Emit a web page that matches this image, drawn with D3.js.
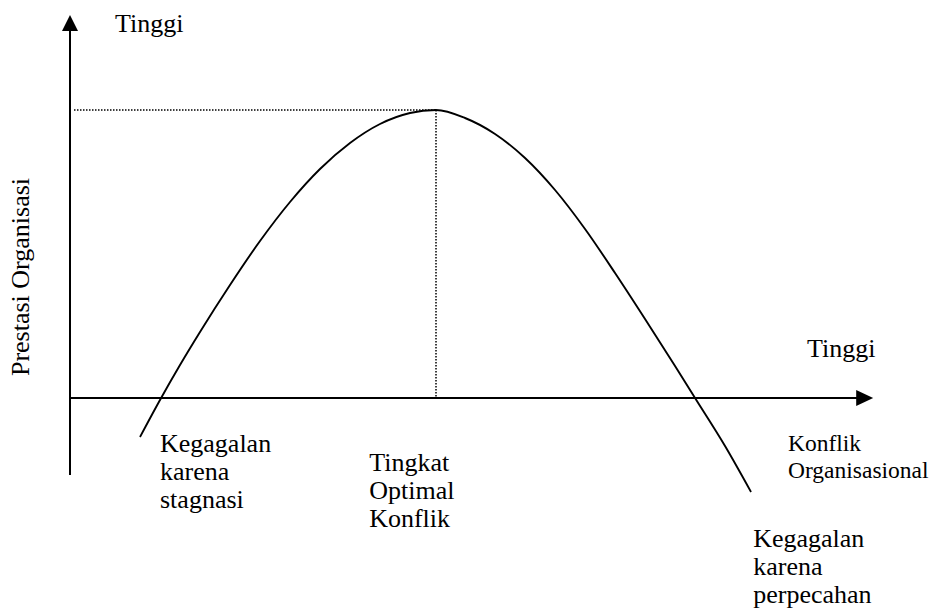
<!DOCTYPE html>
<html>
<head>
<meta charset="utf-8">
<script src="https://cdn.jsdelivr.net/npm/d3@7"></script>
<style>
  html, body { margin: 0; padding: 0; background: #fff; }
  svg { display: block; }
  text { font-family: "Liberation Serif", "Times New Roman", serif; fill: #000; }
</style>
</head>
<body>
<svg id="chart" width="940" height="616"></svg>
<script>
// Curve: level of conflict (x) vs organisational performance (y)
const conflictLevel = [8.75, 11.25, 13.75, 16.25, 20, 23.75, 27.5, 31.25, 35, 38.75, 42.5, 45.75,
                       49.38, 53.13, 56.88, 60.63, 64.38, 68.13, 71.88, 75.63, 78.13, 81.88, 85.13];
const performance   = [-13.54, -0.69, 11.46, 22.92, 39.24, 54.51, 68.06, 79.51, 88.54, 95.14, 98.96, 100,
                       97.22, 91.67, 83.33, 72.22, 58.68, 43.4, 27.43, 11.11, 0, -16.67, -32.64];
const optimum = { x: 45.75, y: 100 };
const yAxisLabel = "Prestasi Organisasi";
const highLabelY = "Tinggi";
const highLabelX = "Tinggi";
const xAxisLabel = ["Konflik", "Organisasional"];
const annotations = [
  { lines: ["Kegagalan", "karena", "stagnasi"], x: 11.25, y: -18.8 },
  { lines: ["Tingkat", "Optimal", "Konflik"], x: 37.4, y: -25.3 },
  { lines: ["Kegagalan", "karena", "perpecahan"], x: 85.4, y: -51.7 }
];

const svg = d3.select("#chart");
const x = d3.scaleLinear().domain([0, 100]).range([70, 870]);
const y = d3.scaleLinear().domain([0, 100]).range([398, 110]);

// Axes
const xTip = 100.4, yTip = 133, yBottom = -26.7;
svg.append("line")
  .attr("x1", x(0)).attr("y1", y(yBottom)).attr("x2", x(0)).attr("y2", y(yTip) + 14)
  .attr("stroke", "#000").attr("stroke-width", 2);
svg.append("path")
  .attr("d", `M${x(0)},${y(yTip)} L${x(0) - 8},${y(yTip) + 16} L${x(0) + 8},${y(yTip) + 16} Z`)
  .attr("fill", "#000");
svg.append("line")
  .attr("x1", x(0)).attr("y1", y(0)).attr("x2", x(xTip) - 14).attr("y2", y(0))
  .attr("stroke", "#000").attr("stroke-width", 2);
svg.append("path")
  .attr("d", `M${x(xTip)},${y(0)} L${x(xTip) - 17},${y(0) - 8} L${x(xTip) - 17},${y(0) + 8} Z`)
  .attr("fill", "#000");

// Dotted guide lines
svg.append("line")
  .attr("x1", x(0) + 4).attr("y1", y(optimum.y)).attr("x2", x(optimum.x)).attr("y2", y(optimum.y))
  .attr("stroke", "#000").attr("stroke-width", 1.5).attr("stroke-dasharray", "1.5,1.5");
svg.append("line")
  .attr("x1", x(optimum.x)).attr("y1", y(optimum.y)).attr("x2", x(optimum.x)).attr("y2", y(0))
  .attr("stroke", "#000").attr("stroke-width", 1.5).attr("stroke-dasharray", "1.5,1.5");

// Curve
const pts = conflictLevel.map((c, i) => [c, performance[i]]);
svg.append("path")
  .datum(pts)
  .attr("d", d3.line().x(d => x(d[0])).y(d => y(d[1])).curve(d3.curveMonotoneX))
  .attr("fill", "none").attr("stroke", "#000").attr("stroke-width", 1.9);

// Texts
svg.append("text").attr("x", 115).attr("y", 32).attr("font-size", 26).text(highLabelY);
svg.append("text").attr("x", 807).attr("y", 357).attr("font-size", 26).text(highLabelX);
svg.append("text")
  .attr("transform", "translate(29,277) rotate(-90)")
  .attr("text-anchor", "middle").attr("font-size", 26).text(yAxisLabel);
const xl = svg.append("text").attr("font-size", 23.5);
xAxisLabel.forEach((t, i) => xl.append("tspan").attr("x", 788).attr("y", 451 + i * 27).text(t));

annotations.forEach(a => {
  const t = svg.append("text").attr("font-size", 26);
  a.lines.forEach((l, i) => t.append("tspan").attr("x", x(a.x)).attr("y", y(a.y) + i * 28).text(l));
});
</script>
</body>
</html>
